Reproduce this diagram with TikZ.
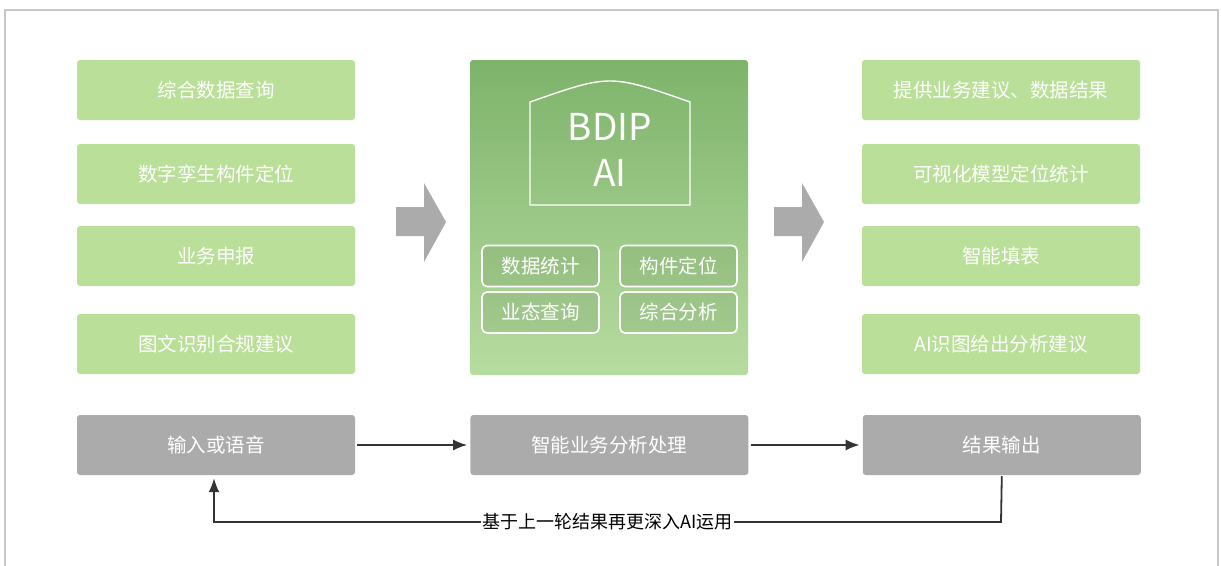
\documentclass[tikz,border=0pt]{standalone}
\usepackage{fontspec}
\setmainfont{Noto Sans CJK SC}
\usetikzlibrary{arrows.meta, positioning, calc}
\definecolor{lgreen}{RGB}{185,223,153}
\definecolor{dgreen}{RGB}{126,179,107}
\definecolor{pgreen}{RGB}{183,220,160}
\definecolor{boxgray}{RGB}{171,171,171}
\definecolor{framegray}{RGB}{200,200,200}
\tikzset{
  boxnode/.style = {align=center, inner sep=0pt, text centered,
    rounded corners=3pt, minimum width=278pt, minimum height=60pt,
    white, font=\fontsize{19.5}{22}\selectfont},
  box_g/.style = {boxnode, fill=lgreen},% green task box
  box_x/.style = {boxnode, fill=boxgray},% gray flow box
  box_s/.style = {align=center, inner sep=0pt, rounded corners=5pt,
    draw=white, line width=1.6pt, fill=dgreen!60!black, fill opacity=.13,
    text opacity=1, text=white, minimum width=117pt, minimum height=41pt,
    font=\fontsize{19.5}{22}\selectfont},% small box in panel
  fatarrow/.style = {fill=boxgray},% big gray arrow
  flow/.style = {->, line width=1.8pt, black!80}% connector
}
\begin{document}
\begin{tikzpicture}[x=1pt, y=-1pt, >={Latex[length=14pt,width=11pt]}]
\useasboundingbox (0,0) rectangle (1221,565);
\draw[framegray, line width=1.2pt] (5,570) -- (5,10) -- (1218,10) -- (1218,570);
% left column
\node [box_g] (q1) at (216,90) {综合数据查询};
\node [box_g] (q2) at (216,174) {数字孪生构件定位};
\node [box_g] (q3) at (216,256) {业务申报};
\node [box_g] (q4) at (216,344) {图文识别合规建议};
% right column
\node [box_g] (r1) at (1001,90) {提供业务建议、数据结果};
\node [box_g] (r2) at (1001,174) {可视化模型定位统计};
\node [box_g] (r3) at (1001,256) {智能填表};
\node [box_g] (r4) at (1001,344) {AI识图给出分析建议};
% centre panel
\node [rounded corners=3pt, top color=dgreen, bottom color=pgreen,
  minimum width=278pt, minimum height=315pt] (panel) at (609,217.5) {};
\draw[white, line width=1.4pt] (530,205) -- (530,102)
  .. controls (610,74) .. (690,102) -- (690,205) -- cycle;
\node [white, align=center, font=\fontsize{37}{46}\selectfont] (bdip) at (610,150) {BDIP\\AI};
\node [box_s] (s1) at (540.5,266) {数据统计};
\node [box_s] (s2) at (678.5,266) {构件定位};
\node [box_s] (s3) at (540.5,312.5) {业态查询};
\node [box_s] (s4) at (678.5,312.5) {综合分析};
% big arrows
\fill[fatarrow] (396,207) -- (424,207) -- (424,183) -- (446,222)
  -- (424,262) -- (424,236) -- (396,236) -- cycle;
\fill[fatarrow] (774,207) -- (802,207) -- (802,183) -- (824,222)
  -- (802,262) -- (802,236) -- (774,236) -- cycle;
% bottom flow
\node [box_x] (in) at (216,445) {输入或语音};
\node [box_x, right=115pt of in] (proc) {智能业务分析处理};
\node [box_x, right=114pt of proc] (out) {结果输出};
\draw[flow] (in.east) ++(2,0) -- ($(proc.west)+(-3,0)$);
\draw[flow] (proc.east) ++(2,0) -- ($(out.west)+(-3,0)$);
\coordinate (fb) at (1001,522);
\draw[flow] (out.south) ++(0,1) -- (fb)
  -- node[fill=white, inner sep=1pt, text=black, font=\fontsize{18}{20}\selectfont] (fbl) {基于上一轮结果再更深入AI运用}
  (fb -| {$(in.south)+(-2,0)$}) -- ($(in.south)+(-2,3)$);
\end{tikzpicture}
\end{document}
